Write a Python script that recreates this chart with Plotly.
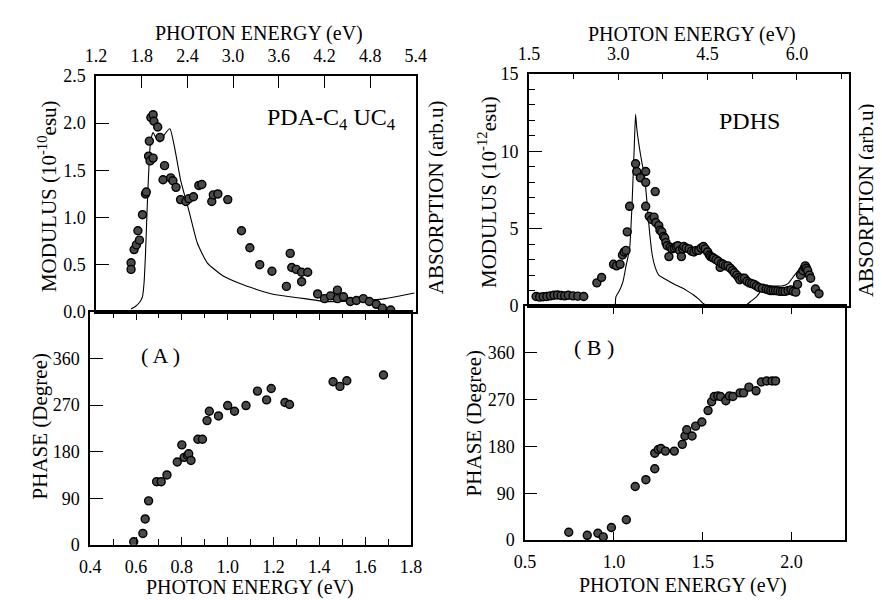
import plotly.graph_objects as go

W, H = 882, 600

# ---------------- data ----------------
# (A) PDA-C4UC4 : modulus vs third-harmonic photon energy (top axis, eV)
modA_E = [1.66, 1.66, 1.70, 1.73, 1.75, 1.77, 1.81, 1.85, 1.86, 1.89, 1.91, 1.95, 1.90,
          1.92, 1.95, 1.96, 2.01, 2.04, 2.10, 2.08, 2.18, 2.21, 2.25, 2.31, 2.38, 2.42,
          2.48, 2.55, 2.59, 2.72, 2.74, 2.80, 2.93, 3.11, 3.22, 3.35, 3.51, 3.70, 3.75,
          3.77, 3.83, 3.90, 3.98, 3.90, 4.11, 4.20, 4.28, 4.37, 4.37, 4.45, 4.54, 4.62,
          4.71, 4.79, 4.88, 4.96, 5.07]
modA_V = [0.52, 0.45, 0.66, 0.71, 0.86, 0.76, 1.03, 1.25, 1.27, 1.65, 1.60, 1.63, 1.81,
          2.06, 2.09, 2.02, 1.96, 1.85, 1.55, 1.40, 1.42, 1.39, 1.32, 1.19, 1.17, 1.20,
          1.22, 1.34, 1.35, 1.17, 1.24, 1.25, 1.19, 0.86, 0.68, 0.50, 0.43, 0.27, 0.62,
          0.47, 0.45, 0.42, 0.42, 0.32, 0.19, 0.14, 0.17, 0.23, 0.14, 0.16, 0.11, 0.12,
          0.14, 0.11, 0.08, 0.04, 0.02]
absA_E = [1.66, 1.72, 1.78, 1.81, 1.83, 1.85, 1.87, 1.89, 1.91, 1.93, 1.95, 1.99, 2.04,
          2.10, 2.17, 2.23, 2.31, 2.42, 2.53, 2.66, 2.87, 3.09, 3.30, 3.51, 3.75, 3.94,
          4.20, 4.45, 4.71, 5.00, 5.20, 5.38]
absA_V = [0.03, 0.06, 0.11, 0.16, 0.30, 0.62, 1.07, 1.45, 1.75, 1.86, 1.90, 1.84, 1.80,
          1.88, 1.94, 1.75, 1.40, 1.07, 0.73, 0.52, 0.38, 0.30, 0.24, 0.19, 0.16, 0.14,
          0.11, 0.11, 0.12, 0.14, 0.17, 0.20]

# (A) phase vs fundamental photon energy (eV)
phA_E = [0.59, 0.63, 0.64, 0.655, 0.69, 0.71, 0.735, 0.78, 0.80, 0.81, 0.825, 0.83, 0.84,
         0.87, 0.89, 0.91, 0.92, 0.96, 1.00, 1.03, 1.08, 1.13, 1.17, 1.19, 1.25, 1.27,
         1.46, 1.49, 1.52, 1.68]
phA_V = [6, 22, 50, 85, 122, 122, 135, 160, 193, 169, 173, 176, 163, 204, 204, 240, 258,
         249, 269, 258, 269, 297, 280, 302, 275, 271, 315, 306, 317, 328]

# (B) PDHS : modulus vs third-harmonic photon energy (top axis, eV)
modB_E = [1.62, 1.68, 1.74, 1.80, 1.86, 1.92, 1.98, 2.04, 2.10, 2.16, 2.24, 2.32, 2.42,
          2.64, 2.72, 2.92, 2.97, 3.03, 3.07, 3.10, 3.13, 3.15, 3.19, 3.29, 3.31, 3.37,
          3.46, 3.46, 3.46, 3.52, 3.62, 3.56, 3.60, 3.63, 3.68, 3.70, 3.73, 3.76, 3.78,
          3.80, 3.82, 3.85, 3.87, 3.90, 3.94, 3.97, 4.00, 4.03, 4.06, 4.08, 4.10, 4.14,
          4.19, 4.23, 4.27, 4.31, 4.35, 4.39, 4.43, 4.46, 4.50, 4.53, 4.55, 4.58, 4.60,
          4.64, 4.68, 4.71, 4.73, 4.76, 4.80, 4.84, 4.88, 4.92, 4.95, 4.99, 5.02, 5.04,
          5.08, 5.12, 5.16, 5.20, 5.24, 5.28, 5.32, 5.36, 5.42, 5.48, 5.52, 5.56, 5.60,
          5.64, 5.68, 5.72, 5.76, 5.80, 5.85, 5.90, 5.94, 5.98, 6.01, 6.06, 6.10, 6.13,
          6.14, 6.16, 6.18, 6.21, 6.23, 6.31, 6.37]
modB_V = [0.62, 0.58, 0.60, 0.62, 0.66, 0.70, 0.72, 0.68, 0.66, 0.70, 0.66, 0.64, 0.62,
          1.5, 1.85, 2.7, 2.6, 2.7, 3.3, 3.5, 3.6, 4.8, 6.45, 9.2, 8.7, 8.3,
          8.7, 8.0, 6.45, 5.8, 7.4, 5.6, 5.75, 5.4, 5.2, 4.9, 4.8, 4.5, 4.4,
          4.1, 3.9, 3.2, 3.8, 3.7, 3.75, 3.85, 3.9, 3.6, 3.2, 3.7, 3.85, 3.75,
          3.7, 3.55, 3.5, 3.6, 3.6, 3.75, 3.85, 3.7, 3.5, 3.3, 3.2, 3.15, 3.1,
          3.0, 2.9, 2.5, 2.75, 2.7, 2.6, 2.6, 2.45, 2.3, 2.15, 2.0, 1.85, 1.7,
          1.8, 1.8, 1.6, 1.5, 1.45, 1.4, 1.3, 1.2, 1.15, 1.1, 1.05, 1.0, 1.0,
          1.0, 0.98, 0.95, 0.95, 0.95, 1.0, 1.05, 0.95, 0.9, 1.4, 2.0, 2.3, 2.5,
          2.6, 2.45, 2.3, 2.0, 1.8, 1.1, 0.8]
absB1_E = [2.95, 2.96, 3.02, 3.08, 3.13, 3.19, 3.23, 3.27, 3.29, 3.31, 3.36, 3.40, 3.44,
           3.48, 3.52, 3.57, 3.62, 3.68, 3.76, 3.85, 3.95, 4.06, 4.17, 4.27, 4.35, 4.43,
           4.50]
absB1_V = [0.0, 0.6, 1.0, 1.6, 2.6, 3.7, 6.5, 10.5, 12.4, 11.5, 10.1, 9.2, 8.4,
           6.8, 5.0, 3.3, 2.5, 2.0, 1.8, 1.6, 1.4, 1.2, 0.95, 0.7, 0.45, 0.15,
           0.0]
absB2_E = [5.10, 5.16, 5.24, 5.32, 5.40, 5.48, 5.60, 5.75, 5.85, 5.92, 6.00, 6.08]
absB2_V = [0.0, 0.1, 0.35, 0.6, 1.0, 1.3, 1.3, 1.3, 1.45, 1.8, 2.2, 2.6]

# (B) phase vs fundamental photon energy (eV)
phB_E = [0.746, 0.85, 0.91, 0.94, 0.986, 1.07, 1.12, 1.18, 1.23, 1.23, 1.25, 1.265, 1.29,
         1.34, 1.385, 1.40, 1.41, 1.44, 1.46, 1.495, 1.53, 1.55, 1.565, 1.585, 1.60,
         1.63, 1.65, 1.67, 1.71, 1.73, 1.76, 1.80, 1.83, 1.86, 1.89, 1.91]
phB_V = [15, 9, 13, 6, 24, 39, 103, 116, 137, 167, 174, 176, 171, 171, 184, 200, 212,
         200, 219, 227, 249, 266, 276, 277, 276, 268, 277, 276, 283, 283, 294, 287,
         304, 306, 306, 306]

# tick labels
topA_ticks = [1.2, 1.8, 2.4, 3.0, 3.6, 4.2, 4.8, 5.4]
topA_text = ["1.2", "1.8", "2.4", "3.0", "3.6", "4.2", "4.8", "5.4"]
modA_ticks = [0, 0.5, 1.0, 1.5, 2.0, 2.5]
modA_text = ["0.0", "0.5", "1.0", "1.5", "2.0", "2.5"]
botA_ticks = [0.4, 0.6, 0.8, 1.0, 1.2, 1.4, 1.6, 1.8]
botA_text = ["0.4", "0.6", "0.8", "1.0", "1.2", "1.4", "1.6", "1.8"]
phase_ticks = [0, 90, 180, 270, 360]
phase_text = ["0", "90", "180", "270", "360"]
topB_ticks = [1.5, 3.0, 4.5, 6.0]
topB_text = ["1.5", "3.0", "4.5", "6.0"]
modB_ticks = [0, 5, 10, 15]
modB_text = ["0", "5", "10", "15"]
botB_ticks = [0.5, 1.0, 1.5, 2.0]
botB_text = ["0.5", "1.0", "1.5", "2.0"]

# ---------------- figure ----------------
def px(x):
    return x / W


def py(y):
    return 1 - y / H


SF = "Liberation Serif"
MK = dict(size=8, color="#4a4a4a", line=dict(color="black", width=1.4))
LN = dict(color="black", width=1.1, shape="spline", smoothing=0.5)

fig = go.Figure()
fig.add_trace(go.Scatter(x=absA_E, y=absA_V, mode="lines", line=LN, xaxis="x", yaxis="y"))
fig.add_trace(go.Scatter(x=modA_E, y=modA_V, mode="markers", marker=MK, xaxis="x", yaxis="y"))
fig.add_trace(go.Scatter(x=phA_E, y=phA_V, mode="markers", marker=MK, xaxis="x2", yaxis="y2"))
fig.add_trace(go.Scatter(x=absB1_E, y=absB1_V, mode="lines", line=LN, xaxis="x3", yaxis="y3"))
fig.add_trace(go.Scatter(x=absB2_E, y=absB2_V, mode="lines", line=LN, xaxis="x3", yaxis="y3"))
fig.add_trace(go.Scatter(x=modB_E, y=modB_V, mode="markers", marker=MK, xaxis="x3", yaxis="y3"))
fig.add_trace(go.Scatter(x=phB_E, y=phB_V, mode="markers", marker=MK, xaxis="x4", yaxis="y4"))

TF = dict(family=SF, size=18, color="black")
base = dict(showgrid=False, zeroline=False, showline=True, linecolor="black", linewidth=1.6,
            ticks="inside", tickcolor="black", tickwidth=1.4, tickmode="array",
            tickfont=TF, ticklabelstandoff=5, fixedrange=True)

fig.update_layout(
    width=W, height=H, margin=dict(l=0, r=0, t=0, b=0),
    paper_bgcolor="white", plot_bgcolor="white", showlegend=False,
    font=dict(family=SF, color="black"),
    xaxis=dict(base, domain=[px(79), px(407)], range=[1.2, 5.4], side="top", anchor="y",
               tickvals=topA_ticks, ticktext=topA_text, ticklen=12, mirror=True),
    yaxis=dict(base, domain=[py(304), py(60)], range=[0, 2.5], anchor="x",
               tickvals=modA_ticks, ticktext=modA_text, ticklen=13, mirror=True),
    xaxis2=dict(base, domain=[px(73), px(402)], range=[0.4, 1.8], anchor="y2",
                tickvals=botA_ticks, ticktext=botA_text, ticklen=8, mirror="ticks",
                minor=dict(tickmode="linear", tick0=0.4, dtick=0.1, ticks="inside",
                           ticklen=6, tickcolor="black", tickwidth=1.2)),
    yaxis2=dict(base, domain=[py(545), py(304)], range=[0, 450], anchor="x2",
                tickvals=phase_ticks, ticktext=phase_text, ticklen=13, mirror=True),
    xaxis3=dict(base, domain=[px(523), px(851)], range=[1.5, 6.87], side="top", anchor="y3",
                tickvals=topB_ticks, ticktext=topB_text, ticklen=6, mirror=True,
                minor=dict(tickmode="linear", tick0=1.5, dtick=0.75, ticks="inside",
                           ticklen=5, tickcolor="black", tickwidth=1.2)),
    yaxis3=dict(base, domain=[py(298), py(58)], range=[0, 15], anchor="x3",
                tickvals=modB_ticks, ticktext=modB_text, ticklen=13, mirror=True,
                minor=dict(tickmode="linear", tick0=0, dtick=1, ticks="inside",
                           ticklen=6, tickcolor="black", tickwidth=1.2)),
    xaxis4=dict(base, domain=[px(519), px(847)], range=[0.5, 2.3], anchor="y4",
                tickvals=botB_ticks, ticktext=botB_text, ticklen=8, mirror="ticks"),
    yaxis4=dict(base, domain=[py(540), py(298)], range=[0, 450], anchor="x4",
                tickvals=phase_ticks, ticktext=phase_text, ticklen=12, mirror=True),
)


def label(text, x, y, size, angle=0):
    fig.add_annotation(text=text, x=px(x), y=py(y), xref="paper", yref="paper",
                       showarrow=False, textangle=angle, xanchor="center", yanchor="middle",
                       font=dict(family=SF, size=size, color="black"))


label("PHOTON ENERGY (eV)", 246, 16, 20)
label("PHOTON ENERGY (eV)", 690, 17, 20)
label("PHOTON ENERGY (eV)", 237, 589, 20)
label("PHOTON ENERGY (eV)", 681, 587, 20)
label("MODULUS (10<sup>-10</sup>esu)", 30, 184, 21, -90)
label("PHASE (Degree)", 21, 422, 21, -90)
label("ABSORPTION (arb.u)", 427, 185, 21, -90)
label("MODULUS (10<sup>-12</sup>esu)", 480, 180, 21, -90)
label("PHASE (Degree)", 467, 419, 21, -90)
label("ABSORPTION (arb.u)", 868, 188, 21, -90)
label("PDA-C<sub>4</sub> UC<sub>4</sub>", 321, 104, 24)
label("PDHS", 749, 107, 24)
label("( A )", 145, 349, 22)
label("( B )", 590, 341, 22)

fig.write_html("out.html")
